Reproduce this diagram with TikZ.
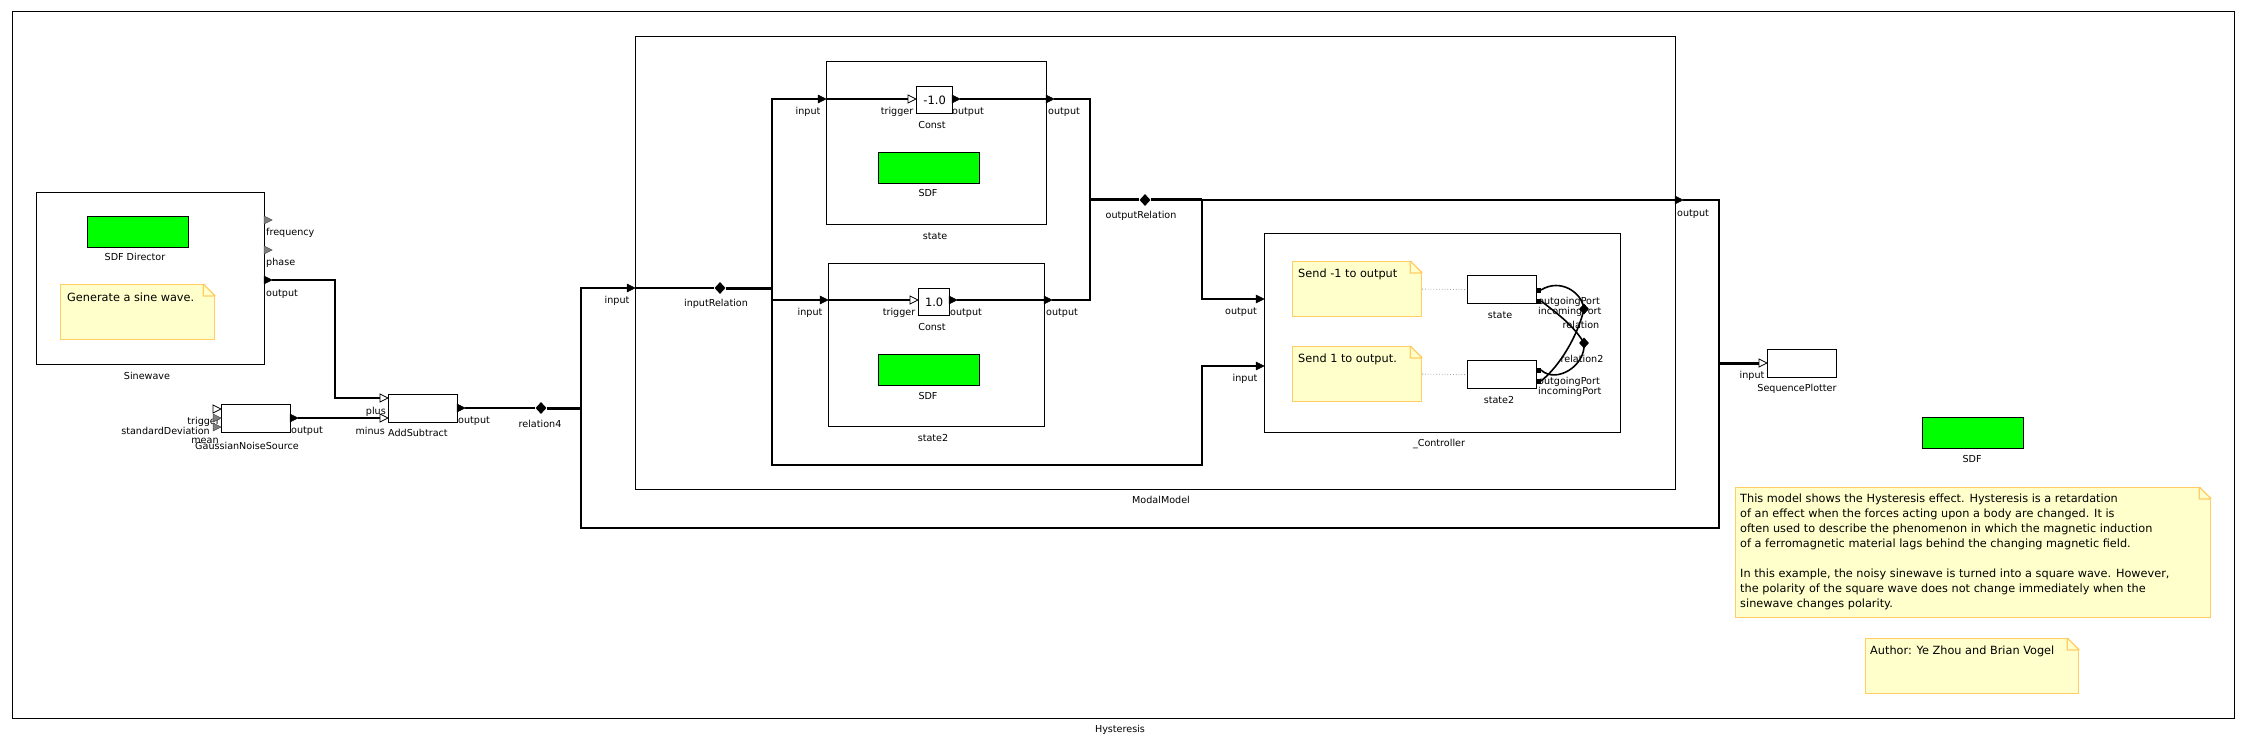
\documentclass[tikz,border=0pt]{standalone}
\usepackage{fontspec}
\setmainfont{DejaVu Sans}
\usetikzlibrary{arrows.meta, calc, shapes.geometric}

\definecolor{notefill}{RGB}{255,255,204}
\definecolor{noteline}{RGB}{255,204,102}
\definecolor{dirgreen}{RGB}{0,255,0}

\tikzset{
  actor/.style={draw, line width=1.3pt, fill=white, inner sep=0pt},
  director/.style={draw, line width=1.3pt, fill=dirgreen, minimum width=101pt, minimum height=31pt, inner sep=0pt, anchor=north west},
  lbl/.style={inner sep=0pt, font=\fontsize{9.6}{11}\selectfont},
  wire/.style={line width=2.1pt},
  bus/.style={line width=3pt},
  arc/.style={line width=1.6pt},
  attr/.style={gray!70, dotted, line width=0.8pt},
  relation/.style={diamond, fill=black, inner sep=0pt, minimum width=11pt, minimum height=12pt},
  notebox/.style={draw=noteline, fill=notefill, line width=1.2pt, inner sep=0pt, anchor=north west},
  notetext/.style={inner sep=0pt, anchor=north west, align=left, font=\fontsize{11.3}{15}\selectfont},
  pics/oport/.style={code={
    \filldraw[line width=0.5pt] (0,-4) -- (8,0) -- (0,4) -- cycle;
    \coordinate (-a) at (0,0); \coordinate (-b) at (8,0);}},
  pics/iport/.style={code={
    \filldraw[fill=white, line width=0.8pt] (0,-4) -- (8,0) -- (0,4) -- cycle;
    \coordinate (-a) at (0,0); \coordinate (-b) at (8,0);}},
  pics/pport/.style={code={
    \filldraw[fill=gray, draw=gray!60!black, line width=0.5pt] (0,-4) -- (8,0) -- (0,4) -- cycle;
    \coordinate (-a) at (0,0); \coordinate (-b) at (8,0);}},
  pics/fsmport/.style={code={
    \fill (0,-2.5) rectangle (5,2.5);
    \coordinate (-b) at (5,0);}},
  pics/fold/.style={code={
    \fill[white] (-12,-1) -- (1.5,-1) -- (1.5,12) -- cycle;
    \draw[noteline, line width=1.2pt] (-12,0) -- (0,12) (-12,0) -- (-12,12) -- (0,12);}},
}

\begin{document}
\begin{tikzpicture}[x=1pt, y=-1pt, >=Latex]
  \def\bw{69pt} % small actor width
  \def\bh{28pt} % small actor height
  \useasboundingbox (0,0) rectangle (2245,746);

  % top level frame
  \node[actor, fill=none, minimum width=2222pt, minimum height=707pt, anchor=north west] (hyst) at (12,11) {};
  \node[lbl] (hyst-l) at (1120,730) {Hysteresis};

  % Sinewave composite
  \node[actor, minimum width=228pt, minimum height=172pt, anchor=north west] (sine) at (36,192) {};
  \node[lbl] (sine-l) at (147,376) {Sinewave};
  \node[director] (sdfdir) at (87,216) {};
  \node[lbl] (sdfdir-l) at (135,257) {SDF Director};
  \node[notebox, minimum width=154pt, minimum height=55pt] (gennote) at (60,284) {};
  \pic at (gennote.north east) {fold};
  \node[notetext] (gentext) at (67,293) {Generate a sine wave.};
  \pic (freq) at (264,220) {pport};
  \pic (phase) at (264,250) {pport};
  \pic (sw-out) at (264,280) {oport};
  \node[lbl, anchor=west] (freq-l) at (266,233) {frequency};
  \node[lbl, anchor=west] (phase-l) at (266,263) {phase};
  \node[lbl, anchor=west] (swout-l) at (266,294) {output};

  % noise source
  \node[lbl, anchor=east] (gtrig-l) at (220,422) {trigger};
  \node[lbl, anchor=east] (gsd-l) at (210,431) {standardDeviation};
  \node[lbl] (gmean-l) at (205,441) {mean};
  \node[actor, minimum width=\bw, minimum height=\bh, anchor=north west] (gauss) at (221,404) {};
  \pic (gtrig) at (213,409) {iport};
  \pic (gsd) at (213,418) {pport};
  \pic (gmean) at (213,427) {pport};
  \pic (g-out) at (290,418) {oport};
  \node[lbl] (gauss-l) at (247,446) {GaussianNoiseSource};
  \node[lbl, anchor=west] (gout-l) at (291,431) {output};

  % adder
  \node[actor, minimum width=\bw, minimum height=\bh, anchor=north west] (addsub) at (388,394) {};
  \pic (plus) at (380,398) {iport};
  \pic (minus) at (380,418) {iport};
  \pic (add-out) at (457,408) {oport};
  \node[lbl, anchor=east] (plus-l) at (386,412) {plus};
  \node[lbl, anchor=east] (minus-l) at (385,431) {minus};
  \node[lbl, anchor=west] (addsub-l) at (388,433) {AddSubtract};
  \node[lbl, anchor=west] (addout-l) at (458,421) {output};
  \node[relation] (rel4) at (541,408) {};
  \node[lbl] (rel4-l) at (540,424) {relation4};

  % ModalModel
  \node[actor, fill=none, minimum width=1040pt, minimum height=453pt, anchor=north west] (modal) at (635,36) {};
  \node[lbl] (modal-l) at (1161,500) {ModalModel};
  \pic (mm-in) at (627,288) {oport};
  \pic (mm-out) at (1675,200) {oport};
  \node[lbl] (mmin-l) at (617,301) {input};
  \node[lbl] (mmout-l) at (1693,214) {output};
  \node[relation] (inrel) at (720,288) {};
  \node[lbl] (inrel-l) at (716,304) {inputRelation};
  \node[relation] (outrel) at (1145,200) {};
  \node[lbl] (outrel-l) at (1141,216) {outputRelation};

  % refinement state
  \node[actor, minimum width=220pt, minimum height=163pt, anchor=north west] (st) at (826,61) {};
  \node[lbl] (st-l) at (935,236) {state};
  \pic (st-in) at (818,99) {oport};
  \pic (st-out) at (1046,99) {oport};
  \node[lbl] (stin-l) at (808,112) {input};
  \node[lbl] (stout-l) at (1064,112) {output};
  \node[actor, minimum width=36pt, minimum height=27pt, anchor=north west, font=\fontsize{11.5}{13}\selectfont] (c1) at (916,86) {-1.0};
  \pic (c1-trig) at (908,99) {iport};
  \pic (c1-out) at (952,99) {oport};
  \node[lbl] (c1trig-l) at (897,112) {trigger};
  \node[lbl] (c1out-l) at (968,112) {output};
  \node[lbl] (c1-l) at (932,125) {Const};
  \node[director] (sdf1) at (878,152) {};
  \node[lbl] (sdf1-l) at (928,193) {SDF};

  % refinement state2
  \node[actor, minimum width=216pt, minimum height=163pt, anchor=north west] (st2) at (828,263) {};
  \node[lbl] (st2-l) at (933,438) {state2};
  \pic (st2-in) at (820,300) {oport};
  \pic (st2-out) at (1044,300) {oport};
  \node[lbl] (st2in-l) at (810,313) {input};
  \node[lbl] (st2out-l) at (1062,313) {output};
  \node[actor, minimum width=31pt, minimum height=27pt, anchor=north west, font=\fontsize{11.5}{13}\selectfont] (c2) at (918,288) {1.0};
  \pic (c2-trig) at (910,300) {iport};
  \pic (c2-out) at (949,300) {oport};
  \node[lbl] (c2trig-l) at (899,313) {trigger};
  \node[lbl] (c2out-l) at (966,313) {output};
  \node[lbl] (c2-l) at (932,327) {Const};
  \node[director] (sdf2) at (878,354) {};
  \node[lbl] (sdf2-l) at (928,396) {SDF};

  % controller
  \node[actor, fill=none, minimum width=356pt, minimum height=199pt, anchor=north west] (ctl) at (1264,233) {};
  \node[lbl] (ctl-l) at (1439,444) {\_Controller};
  \pic (ctl-out) at (1256,299) {oport};
  \pic (ctl-in) at (1256,366) {oport};
  \node[lbl] (ctlout-l) at (1241,312) {output};
  \node[lbl] (ctlin-l) at (1245,379) {input};
  \node[notebox, minimum width=129pt, minimum height=55pt] (note1) at (1292,261) {};
  \pic at (note1.north east) {fold};
  \node[notetext] (note1-t) at (1298,269) {Send -1 to output};
  \node[notebox, minimum width=129pt, minimum height=55pt] (note2) at (1292,346) {};
  \pic at (note2.north east) {fold};
  \node[notetext] (note2-t) at (1298,354) {Send 1 to output.};
  \node[actor, minimum width=\bw, minimum height=\bh, anchor=north west] (fsm1) at (1467,275) {};
  \node[lbl] (fsm1-l) at (1500,315) {state};
  \node[actor, minimum width=\bw, minimum height=\bh, anchor=north west] (fsm2) at (1467,360) {};
  \node[lbl] (fsm2-l) at (1499,400) {state2};
  \draw[attr] (note1.east) -- (fsm1.west);
  \draw[attr] (note2.east) -- (fsm2.west);
  \node[lbl, anchor=west] (f1og-l) at (1538,302) {outgoingPort};
  \node[lbl, anchor=west] (f1ic-l) at (1538,312) {incomingPort};
  \node[lbl, anchor=west] (f2og-l) at (1538,382) {outgoingPort};
  \node[lbl, anchor=west] (f2ic-l) at (1538,392) {incomingPort};
  \pic (f1-og) at (1536,290) {fsmport};
  \pic (f1-ic) at (1536,301) {fsmport};
  \pic (f2-og) at (1536,370) {fsmport};
  \pic (f2-ic) at (1536,381) {fsmport};
  \node[relation, minimum width=10pt, minimum height=11pt] (rel) at (1584,309) {};
  \node[relation, minimum width=10pt, minimum height=11pt] (rel2) at (1584,343) {};
  \node[lbl] (rel-l) at (1581,325) {relation};
  \node[lbl] (rel2-l) at (1582,359) {relation2};
  \draw[arc] (f1-og-b) .. controls (1560,278) and (1582,292) .. (rel.center) .. controls (1578,335) and (1560,366) .. (f2-ic-b);
  \draw[arc] (f1-ic-b) .. controls (1558,314) and (1574,326) .. (rel2.center) .. controls (1586,366) and (1556,384) .. (f2-og-b);

  % plotter and director
  \node[actor, minimum width=\bw, minimum height=\bh, anchor=north west] (plot) at (1767,349) {};
  \pic (plot-in) at (1759,363) {iport};
  \node[lbl] (plotin-l) at (1752,376) {input};
  \node[lbl] (plot-l) at (1797,389) {SequencePlotter};
  \node[director] (sdf3) at (1922,417) {};
  \node[lbl] (sdf3-l) at (1972,459) {SDF};

  % annotations
  \node[notebox, minimum width=475pt, minimum height=130pt] (infonote) at (1735,487) {};
  \pic at (infonote.north east) {fold};
  \node[notetext] (infotext) at (1740,494) {This model shows the Hysteresis effect. Hysteresis is a retardation\\
    of an effect when the forces acting upon a body are changed. It is\\
    often used to describe the phenomenon in which the magnetic induction\\
    of a ferromagnetic material lags behind the changing magnetic field.\\[15pt]
    In this example, the noisy sinewave is turned into a square wave. However,\\
    the polarity of the square wave does not change immediately when the\\
    sinewave changes polarity.};
  \node[notebox, minimum width=213pt, minimum height=55pt] (authnote) at (1865,638) {};
  \pic at (authnote.north east) {fold};
  \node[notetext] (authtext) at (1870,646) {Author: Ye Zhou and Brian Vogel};

  % links at top level
  \coordinate (j4) at (581,408);
  \coordinate (jp) at (1719,363);
  \draw[wire] (sw-out-b) -- ++(63,0) |- (plus-a);
  \draw[wire] (g-out-b) -- (minus-a);
  \draw[wire] (add-out-b) -- (rel4);
  \draw[bus] (rel4) -- (j4);
  \draw[wire] (j4) |- (mm-in-a);
  \draw[wire] (mm-out-b) -| (jp) |- ($(j4)+(0,120)$) -- (j4);
  \draw[bus] (jp) -- (plot-in-a);

  % links inside ModalModel
  \coordinate (ji) at (772,288);
  \coordinate (jo) at (1090,200);
  \coordinate (jc) at (1202,200);
  \draw[wire] (mm-in-b) -- (inrel);
  \draw[bus] (inrel) -- (ji);
  \draw[wire] (ji) |- (st-in-a);
  \draw[wire] (ji) |- (st2-in-a);
  \draw[wire] (ji) |- ($(jc)+(0,265)$) |- (ctl-in-a);
  \draw[wire] (st-in-b) -- (c1-trig-a);
  \draw[wire] (c1-out-b) -- (st-out-a);
  \draw[wire] (st2-in-b) -- (c2-trig-a);
  \draw[wire] (c2-out-b) -- (st2-out-a);
  \draw[wire] (st-out-b) -| (jo) |- (st2-out-b);
  \draw[bus] (jo) -- (outrel) -- (jc);
  \draw[wire] (jc) -- (mm-out-a);
  \draw[wire] (jc) |- (ctl-out-a);
\end{tikzpicture}
\end{document}
